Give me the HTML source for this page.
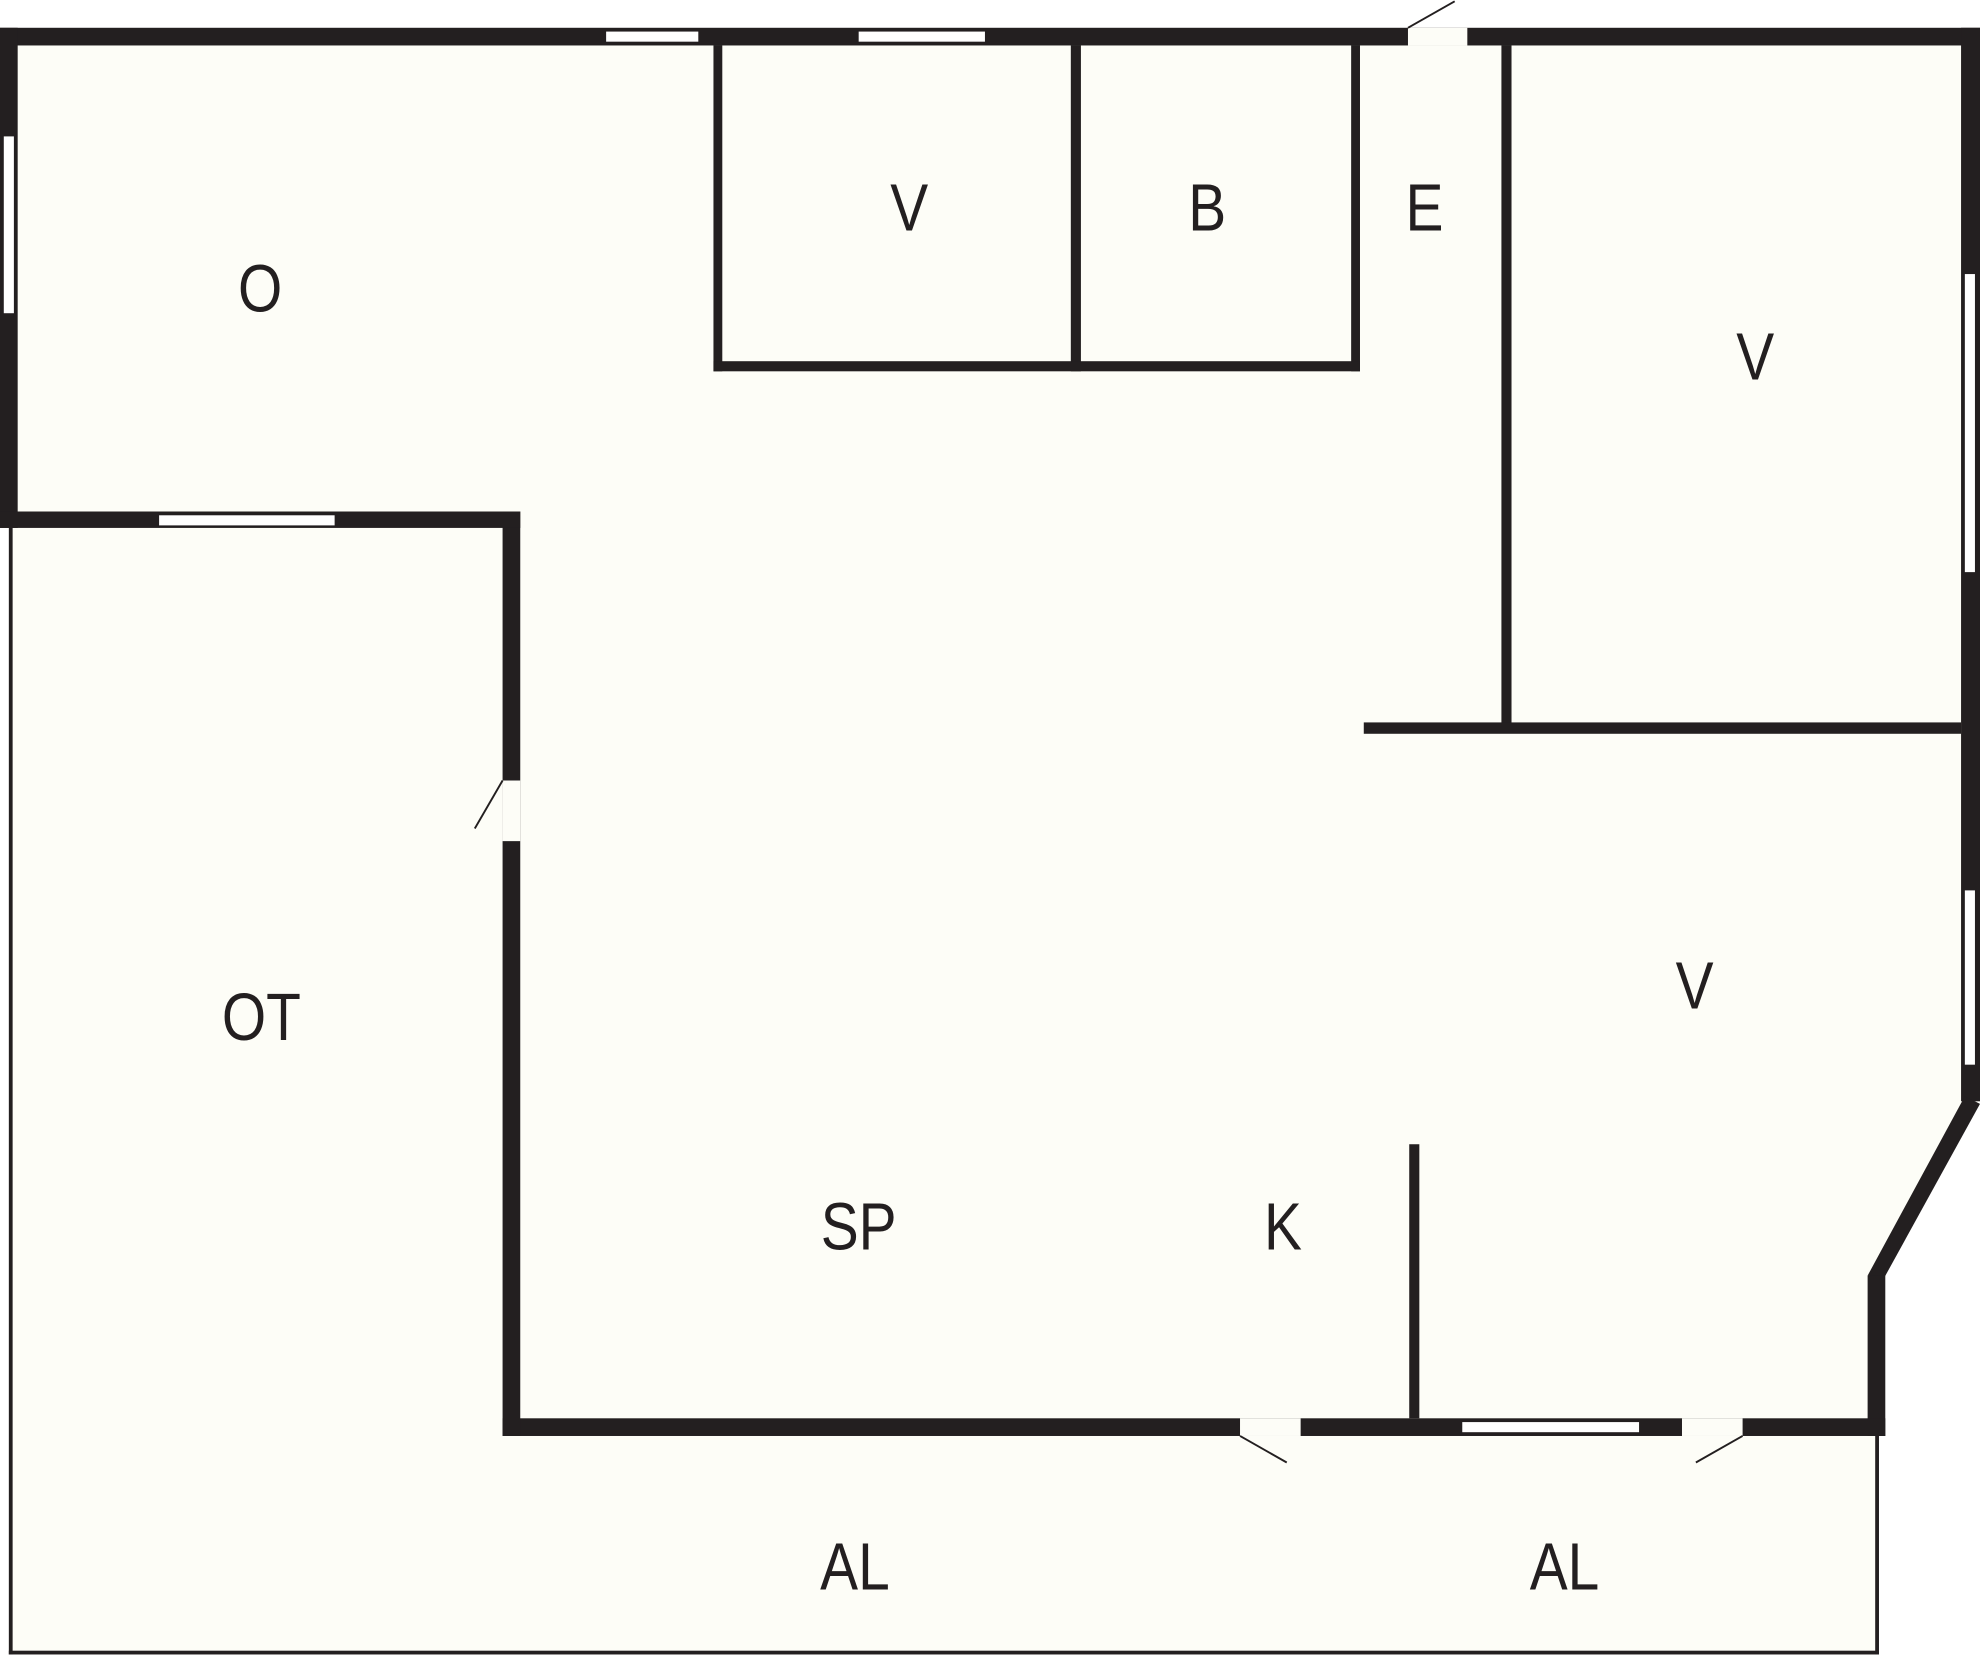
<!DOCTYPE html>
<html><head><meta charset="utf-8"><style>html,body{margin:0;padding:0;background:#fff}svg{display:block}</style></head>
<body>
<svg width="1980" height="1657" viewBox="0 0 1568 1312" preserveAspectRatio="none" xmlns="http://www.w3.org/2000/svg">
<rect width="1568" height="1312" fill="#fff"/>
<polygon points="0,22 1568,22 1568,872 1490,1010 1490,1137 1488,1137 1488,1310 7,1310 7,418 0,418" fill="#fdfdf7"/>
<g fill="#231f20">
<rect x="0" y="22" width="1568" height="14"/>
<rect x="0" y="22" width="14" height="396"/>
<rect x="1553" y="22" width="15" height="850"/>
<polygon points="1556,868 1568,874 1492,1012 1479,1010"/>
<rect x="1479" y="1010" width="14" height="127"/>
<rect x="398" y="1123" width="1095" height="14"/>
<rect x="398" y="405" width="14" height="732"/>
<rect x="0" y="405" width="412" height="13"/>
<rect x="565" y="36" width="7" height="258"/>
<rect x="848" y="36" width="8" height="258"/>
<rect x="1070" y="36" width="7" height="258"/>
<rect x="565" y="286" width="512" height="8"/>
<rect x="1189" y="36" width="8" height="542"/>
<rect x="1080" y="572" width="473" height="9"/>
<rect x="1116" y="906" width="8" height="217"/>
<rect x="7" y="418" width="3" height="892"/>
<rect x="7" y="1307" width="1481" height="3"/>
<rect x="1485" y="1137" width="3" height="173"/>
</g>
<g fill="#fdfdf7">
<rect x="1115" y="22" width="47" height="14"/>
<rect x="398" y="618" width="14" height="48"/>
<rect x="982" y="1123" width="48" height="14"/>
<rect x="1332" y="1123" width="48" height="14"/>
</g>
<g fill="#fff">
<rect x="480" y="25" width="73" height="8"/>
<rect x="680" y="25" width="100" height="8"/>
<rect x="3" y="108" width="8" height="140"/>
<rect x="1556" y="217" width="8" height="236"/>
<rect x="1556" y="705" width="8" height="138"/>
<rect x="126" y="408" width="139" height="8"/>
<rect x="1158" y="1126" width="140" height="8"/>
</g>
<g stroke="#231f20" stroke-width="1.5">
<line x1="1115" y1="22" x2="1152" y2="1"/>
<line x1="398" y1="618" x2="376" y2="656"/>
<line x1="982" y1="1137" x2="1019" y2="1158"/>
<line x1="1380" y1="1137" x2="1343" y2="1158"/>
</g>
<g transform="scale(0.85,1)" font-family="Liberation Sans, sans-serif" font-size="53" fill="#231f20" text-anchor="middle" dominant-baseline="central">
<text x="242.4" y="229">O</text>
<text x="847.1" y="165">V</text>
<text x="1124.7" y="165">B</text>
<text x="1327.1" y="165">E</text>
<text x="1635.3" y="283">V</text>
<text x="243.5" y="806">OT</text>
<text x="1578.8" y="781">V</text>
<text x="800" y="972">SP</text>
<text x="1195.3" y="972">K</text>
<text x="796.5" y="1241">AL</text>
<text x="1457.6" y="1241">AL</text>
</g>
</svg>
</body></html>
